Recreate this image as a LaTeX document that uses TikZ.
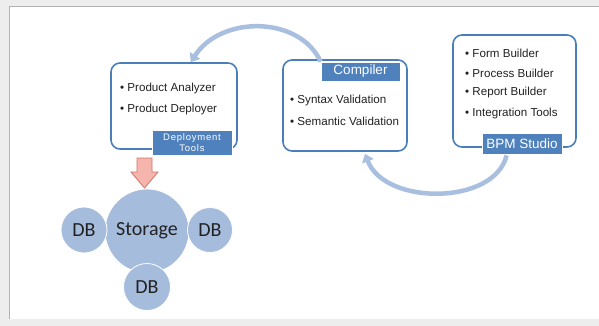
\documentclass[tikz,border=0pt]{standalone}
\usepackage{fontspec}
\setmainfont{Liberation Sans}
\newfontfamily\calib{Carlito}
\usetikzlibrary{arrows.meta}
\definecolor{boxline}{RGB}{74,126,187}
\definecolor{labfill}{RGB}{79,129,189}
\definecolor{arcblue}{RGB}{169,191,224}
\definecolor{circfill}{RGB}{166,188,221}
\definecolor{pinkfill}{RGB}{245,181,173}
\definecolor{pinkline}{RGB}{212,115,106}
\definecolor{txt}{RGB}{34,34,34}
\begin{document}
\begin{tikzpicture}[x=1pt,y=-1pt,
  panel/.style={draw=boxline,line width=1.6pt,rounded corners=9pt,fill=white,inner sep=0pt},
  lab/.style={fill=labfill,draw=white,line width=0.8pt,text=white,inner sep=0pt,align=center},
  item/.style={anchor=west,inner sep=0pt,text=txt,font=\fontsize{11.6}{13}\selectfont},
  flow/.style={draw=arcblue,line width=4.5pt,-{Triangle[width=12pt,length=8pt]}},
  disc/.style={circle,fill=circfill,draw=white,line width=0.8pt,inner sep=0pt},
  disctext/.style={inner sep=0pt,text=txt,font=\calib\fontsize{20}{22}\selectfont}]
\useasboundingbox (0,0) rectangle (599,326);
\fill[black!7] (0,0) rectangle (599,326);
\fill[white] (9,6) rectangle (599,319);
\draw[black!30,line width=0.8pt] (9,319) -- (9,6) -- (599,6);

% boxes
\node[panel,minimum width=126pt,minimum height=86pt] (dep) at (174,106) {};
\node[panel,minimum width=124pt,minimum height=91pt] (comp) at (345,105.5) {};
\node[panel,minimum width=123pt,minimum height=112pt] (bpm) at (514.5,91) {};

% labels
\node[lab,minimum width=80pt,minimum height=25pt,font=\addfontfeature{LetterSpace=8}\fontsize{9.5}{10.5}\selectfont] (deplab) at (192,142.5) {Deployment\\Tools};
\node[lab,minimum width=79pt,minimum height=19pt,font=\fontsize{13.5}{15}\selectfont] (complab) at (360.5,71.5) {Compiler};
\node[lab,minimum width=80pt,minimum height=21pt,font=\fontsize{13.5}{15}\selectfont] (bpmlab) at (522,143.5) {BPM Studio};

% items
\node[item] (d1) at (120,89) {• Product Analyzer};
\node[item] (d2) at (120,110) {• Product Deployer};
\node[item] (c1) at (290,101) {• Syntax Validation};
\node[item] (c2) at (290,121) {• Semantic Validation};
\node[item] (b1) at (465,53) {• Form Builder};
\node[item] (b2) at (465,73) {• Process Builder};
\node[item] (b3) at (465,93) {• Report Builder};
\node[item] (b4) at (465,114) {• Integration Tools};

% flow arcs
\draw[flow] (complab.north west) .. controls ([xshift=-21,yshift=46]complab.north west) and ([xshift=-17,yshift=47]dep.north east) .. ([xshift=-47]dep.north east);
\draw[flow] ([xshift=25,yshift=-1]bpmlab.south west) .. controls ([xshift=13,yshift=-51]bpmlab.south west) and ([xshift=40,yshift=-54]comp.south) .. ([xshift=20,yshift=-2]comp.south);

% storage cluster
\node[disc,minimum size=84pt] (store) at (147,231) {};
\node[disc,minimum size=46pt] (dbl) at (84,230) {};
\node[disc,minimum size=45pt] (dbr) at (210,230) {};
\node[disc,minimum size=47pt] (dbb) at (147,287) {};
\node[disctext] at (store) {Storage};
\node[disctext] at (dbl) {DB};
\node[disctext] at (dbr) {DB};
\node[disctext] at (dbb) {DB};

% pink block arrow
\filldraw[fill=pinkfill,draw=pinkline,line width=0.8pt]
  (137,158) -- (152,158) -- (152,172) -- (158,172) -- (144.5,188) -- (131,172) -- (137,172) -- cycle;
\end{tikzpicture}
\end{document}
